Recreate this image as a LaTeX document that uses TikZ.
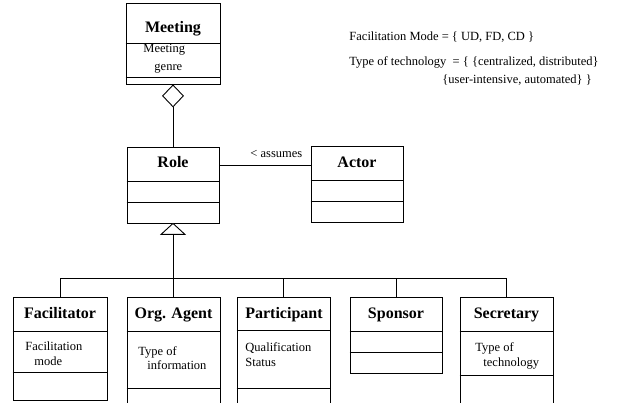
\documentclass[tikz,border=0pt]{standalone}
\usepackage{fontspec}
\setmainfont{Liberation Serif}
\usetikzlibrary{shapes.geometric,fit,calc}
\begin{document}
\begin{tikzpicture}[x=1pt,y=-1pt,
  line width=0.9pt,
  cls/.style={draw, inner sep=0pt, fill=white},
  ttl/.style={font=\fontsize{16}{18}\selectfont\bfseries, inner sep=0pt, anchor=base},
  attr/.style={font=\fontsize{12.5}{14}\selectfont, inner sep=0pt, anchor=base west},
  agg/.style={draw, fill=white, diamond, inner sep=0pt, minimum width=21pt, minimum height=22pt}]
\useasboundingbox (0,0) rectangle (637,403);
\clip (0,0) rectangle (637,403);

% class box: name, left, top, right, bottom
\newcommand\umlclass[5]{\node[cls, fit={(#2,#3) (#4,#5)}] (#1) {};}
% horizontal compartment divider inside a class box
\newcommand\compline[2]{\draw (#1.west |- 0,#2) -- (#1.east |- 0,#2);}

% Meeting
\umlclass{meeting}{126}{3}{220}{84}
\compline{meeting}{43}\compline{meeting}{77}
\node[ttl] (meetingT) at (173,33) {Meeting};
\node[attr] (meetingA1) at (143,53) {Meeting};
\node[attr] (meetingA2) at (154,71) {genre};

% Role and Actor
\umlclass{role}{127}{147}{219}{223}
\compline{role}{181}\compline{role}{202}
\node[ttl] (roleT) at (173,168) {Role};

\umlclass{actor}{311}{146}{403}{222}
\compline{actor}{180}\compline{actor}{201}
\node[ttl] (actorT) at (357,168) {Actor};

% aggregation Meeting <>-- Role
\node[agg, anchor=north] (dia) at (meeting.south) {};
\draw (dia.south) -- (role.north);

% association Role -- Actor
\draw (role.east |- 0,165) -- (actor.west |- 0,165);
\node[attr] (assumes) at (250,158) {< assumes};

% specialised roles
\umlclass{fac}{13}{297}{107}{400}
\compline{fac}{331}\compline{fac}{372}
\node[ttl] (facT) at (60,319) {Facilitator};
\node[attr] (facA1) at (25,350) {Facilitation};
\node[attr] (facA2) at (34,365) {mode};

\umlclass{org}{127}{297}{220}{420}
\compline{org}{331}\compline{org}{388}
\node[ttl] (orgT) at (173.5,319) {Org. Agent};
\node[attr] (orgA1) at (138,355) {Type of};
\node[attr] (orgA2) at (147,369) {information};

\umlclass{part}{237}{297}{330}{420}
\compline{part}{330}\compline{part}{388}
\node[ttl] (partT) at (284,319) {Participant};
\node[attr] (partA1) at (245,351) {Qualification};
\node[attr] (partA2) at (245,366) {Status};

\umlclass{spon}{350}{297}{442}{373}
\compline{spon}{331}\compline{spon}{352}
\node[ttl] (sponT) at (396,319) {Sponsor};

\umlclass{sec}{460}{297}{553}{420}
\compline{sec}{331}\compline{sec}{375}
\node[ttl] (secT) at (506.5,319) {Secretary};
\node[attr] (secA1) at (475,351) {Type of};
\node[attr] (secA2) at (483,366) {technology};

% generalisation tree
\coordinate (bus) at (0,278);
\coordinate (tribase) at ($(role.south)+(0,11)$);
\draw[fill=white] (role.south) -- ($(tribase)+(-12,0)$) -- ($(tribase)+(12,0)$) -- cycle;
\draw (tribase) -- (tribase |- bus);
\draw (fac.north |- bus) -- (sec.north |- bus);
\foreach \c in {fac,org,part,spon,sec}
  \draw (\c.north) -- (\c.north |- bus);

% value domains
\node[attr] (modes) at (349,41) {Facilitation Mode = \{ UD, FD, CD \}};
\node[attr] (tech1) at (349,66) {Type of technology \ = \{ \{centralized, distributed\}};
\node[attr] (tech2) at (442,84) {\{user-intensive, automated\} \}};
\end{tikzpicture}
\end{document}
